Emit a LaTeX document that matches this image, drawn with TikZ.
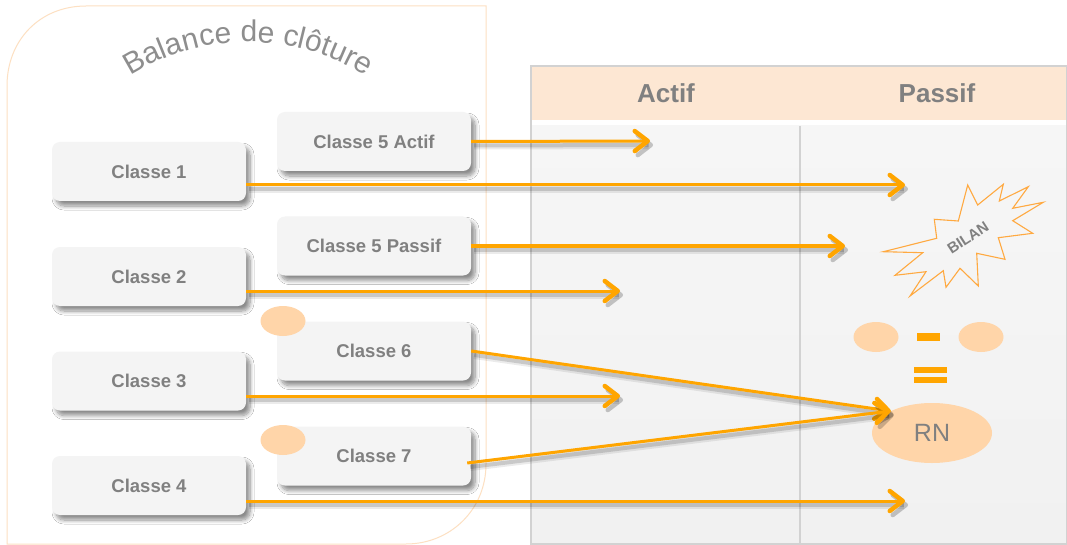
\documentclass[tikz,border=0pt]{standalone}
\usepackage{fontspec}
\setmainfont{Liberation Sans}
\usetikzlibrary{arrows.meta,shadows.blur,decorations.text,shapes.geometric}
\definecolor{arrowc}{HTML}{FFA500}
\definecolor{peach}{HTML}{FFD5A9}
\definecolor{panelline}{HTML}{FDE0C2}
\definecolor{headfill}{HTML}{FDE7D3}
\definecolor{bodytop}{HTML}{F6F6F6}
\definecolor{bodybot}{HTML}{F1F1F1}
\definecolor{tableline}{HTML}{D2D2D2}
\definecolor{boxfill}{HTML}{F4F4F4}
\definecolor{textgray}{HTML}{808080}
\definecolor{titlegray}{HTML}{8E8E8E}
\definecolor{starline}{HTML}{FFA940}
\newcommand\mytitlefont{\fontsize{30}{32}\selectfont}
\begin{document}
\begin{tikzpicture}[x=1pt,y=-1pt,
  box/.style={rectangle, rounded corners=8pt, fill=boxfill, minimum width=194pt, minimum height=59pt, inner sep=0pt,
    font=\fontsize{18.5}{20}\selectfont\bfseries, text=textgray,
    blur shadow={shadow xshift=4pt, shadow yshift=-5pt, shadow blur steps=8, shadow blur radius=4pt, shadow opacity=45}},
  dot/.style={ellipse, fill=peach, minimum width=45pt, minimum height=30pt, inner sep=0pt},
  head/.style={font=\fontsize{26}{28}\selectfont\bfseries, text=textgray, inner sep=0pt},
  arr/.style={draw=arrowc, line width=3pt, -{Straight Barb[length=13pt,width=20pt,line width=4.5pt,round]},
    preaction={draw=black, draw opacity=0.08, line width=8pt, transform canvas={xshift=3pt,yshift=-4pt}},
    preaction={draw=black, draw opacity=0.14, line width=4pt, transform canvas={xshift=3pt,yshift=-4pt}}},
]
\useasboundingbox (0,0) rectangle (1067,545);
\fill[white] (0,0) rectangle (1067,545);
% left panel
\draw[panelline, line width=1pt] (486,6) -- (86,6) .. controls (40,6) and (7,40) .. (7,86) -- (7,544) -- (406,544) .. controls (450,544) and (486,510) .. (486,464) -- cycle;
% title
\path[decorate, decoration={text along path, text align=center, text color=titlegray,
  text={|\mytitlefont|Balance de clôture}}]
  (122.7,80.9) .. controls (198.7,29.0) and (297.3,29.0) .. (373.3,80.9);
% table
\shade[top color=bodytop, bottom color=bodybot] (531,126) rectangle (1067,544);
\fill[headfill] (531,66) rectangle (1067,120);
\draw[tableline, line width=1.5pt] (531,66) rectangle (1067,544);
\draw[tableline, line width=1.5pt] (800,126) -- (800,544);
\node[head] (actif) at (666,93) {Actif};
\node[head] (passif) at (937,93) {Passif};
% boxes
\node[box] (c5a) at (374,141.5) {Classe 5 Actif};
\node[box] (c1) at (149,171.5) {Classe 1};
\node[box] (c5p) at (374,246) {Classe 5 Passif};
\node[box] (c2) at (149,276.5) {Classe 2};
\node[box] (c6) at (374,351) {Classe 6};
\node[box] (c3) at (149,381) {Classe 3};
\node[box] (c7) at (374,456) {Classe 7};
\node[box] (c4) at (149,485.5) {Classe 4};
\node[dot] (e6) at (283,321) {};
\node[dot] (e7) at (283,440) {};
% right side
\draw[starline, line width=1.1pt, line join=miter]
  (883.3,251.7) -- (936.7,238.3) -- (934.3,219.3) -- (958.3,221) -- (967.7,185) -- (977.7,205)
  -- (1003.3,184.3) -- (999.3,201) -- (1028.3,186.7) -- (1012.7,208.3) -- (1043.3,202.3)
  -- (1012.7,220.7) -- (1032.7,233.3) -- (998.3,237.7) -- (1005,259.3) -- (976.7,253.3)
  -- (978.3,286) -- (960,268.3) -- (946,287.3) -- (943.3,270.7) -- (910,296) -- (926,271.7)
  -- (895,275.3) -- (922.7,252.7) -- cycle;
\node[rotate=33, font=\fontsize{15}{15}\selectfont\bfseries, text=textgray, inner sep=0pt] (bilan) at (968,238) {BILAN};
\node[dot] (d1) at (876,337) {};
\node[dot] (d2) at (981,337) {};
\fill[arrowc] (917,333) rectangle (940,341);
\fill[arrowc] (914,367) rectangle (947,373);
\fill[arrowc] (914,377) rectangle (947,383);
\node[ellipse, fill=peach, minimum width=120pt, minimum height=60pt, inner sep=0pt,
  font=\fontsize{25}{26}\selectfont, text=textgray] (rn) at (932,433) {RN};
% arrow tips
\coordinate (t5a) at (650,141);
\coordinate (t1) at (905,185);
\coordinate (t5p) at (845,246);
\coordinate (t2) at (620,291);
\coordinate (t3) at (620,396);
\coordinate (t4) at (905,501);
% arrows
\draw[arr] (c5a.east) -- (t5a);
\draw[arr] ([yshift=-13.5pt]c1.east) -- (t1);
\draw[arr] (c5p.east) -- (t5p);
\draw[arr] ([yshift=-14.5pt]c2.east) -- (t2);
\draw[arr] ([yshift=-15pt]c3.east) -- (t3);
\draw[arr] ([yshift=-15.5pt]c4.east) -- (t4);
\draw[arr] (c6.east) -- (rn.152);
\draw[arr] ([shift={(-4pt,-7pt)}]c7.east) -- (rn.152);
\end{tikzpicture}
\end{document}
